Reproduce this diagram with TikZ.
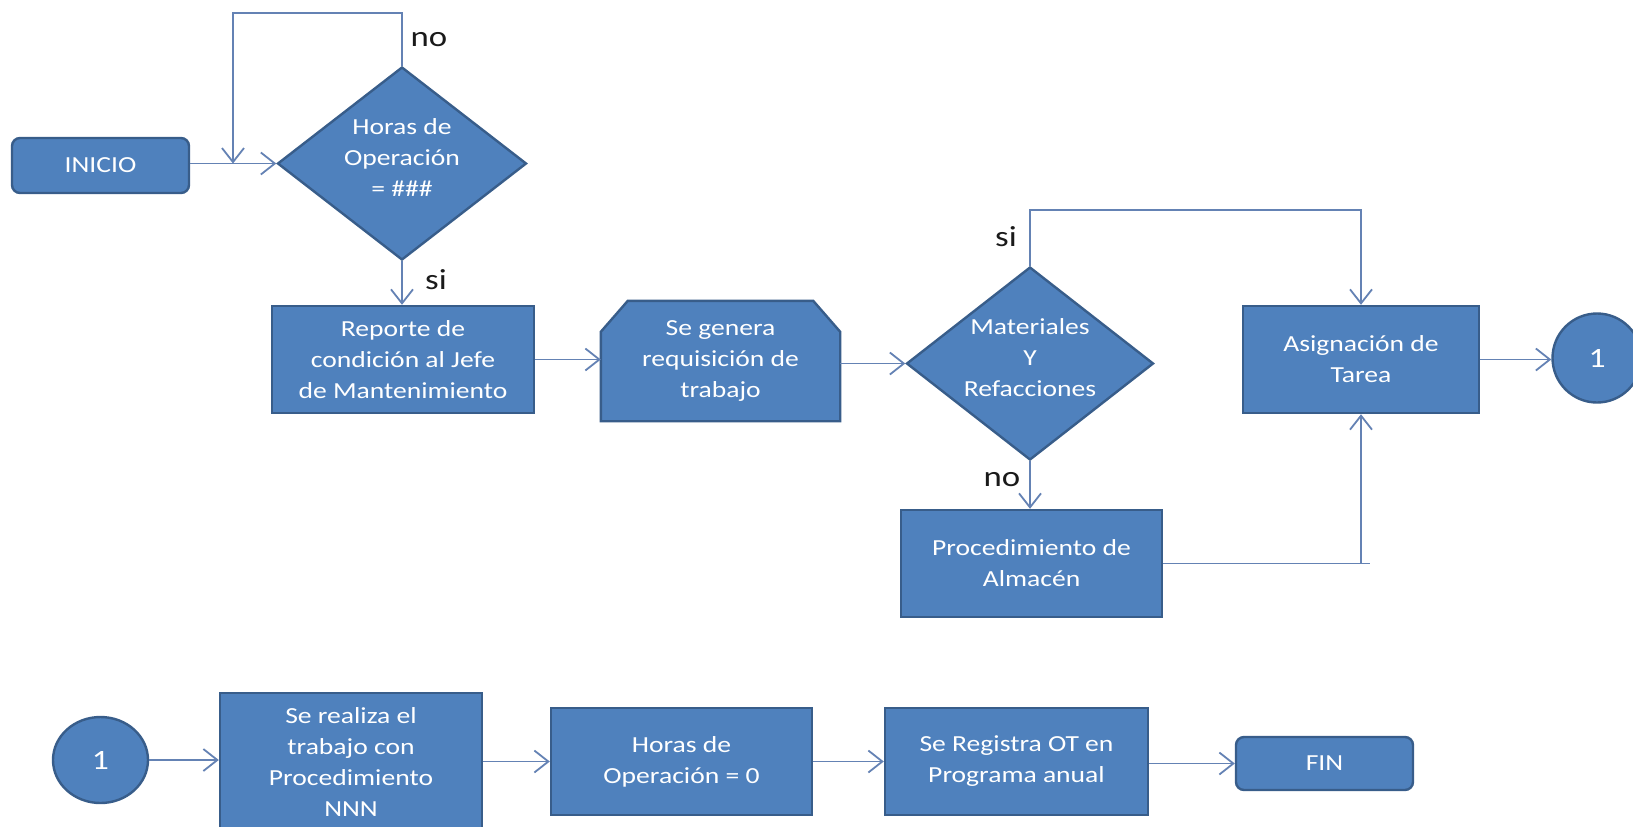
\documentclass[tikz,border=0pt]{standalone}
\usepackage{fontspec}
\setmainfont{Carlito}[FakeStretch=1.2]
\usetikzlibrary{arrows.meta,shapes.geometric,backgrounds}

\definecolor{boxfill}{HTML}{4F81BD}
\definecolor{boxedge}{HTML}{385D8A}
\definecolor{linkcol}{HTML}{6482B4}
\definecolor{labcol}{HTML}{1A1A1A}

\begin{document}
\begin{tikzpicture}[x=0.5pt,y=-0.5pt,
  shapebase/.style={fill=boxfill, draw=boxedge, line width=1.2pt, text=white,
    font=\fontsize{11.5}{15.5}\selectfont, align=center, inner sep=2pt},
  procbox/.style={shapebase, rectangle},
  termbox/.style={shapebase, rectangle, rounded corners=4pt},
  decision/.style={shapebase, diamond, inner sep=-2pt, shape aspect=1.28, text depth=6pt},
  connector/.style={shapebase, ellipse, inner sep=0pt, font=\fontsize{14}{16}\selectfont},
  link/.style={draw=linkcol, line width=0.9pt},
  arr/.style={link, -{Straight Barb[length=7pt,width=11pt]}},
  branch/.style={text=labcol, font=\fontsize{14.5}{17}\selectfont, inner sep=0pt}
]
\begin{scope}[on background layer]
  \fill[white] (0,0) rectangle (1633,826);
\end{scope}
\useasboundingbox (0,0) rectangle (1633,826);
\clip (0,0) rectangle (1633,826);

% first row: start, hour check, report, requisition
\node[termbox, minimum width=88.5pt, minimum height=27.5pt] (ini) at (100.5,165.5) {INICIO};
\node[decision, minimum width=124.5pt, minimum height=96.5pt] (d1) at (402,163.5) {Horas de\\Operación\\= \#\#\#};
\node[procbox, minimum width=131pt, minimum height=53.5pt] (rep) at (403,359.5) {Reporte de\\condición al Jefe\\de Mantenimiento};
\node[shapebase, fill=none, draw=none, minimum width=118.5pt, minimum height=59pt] (req) at (720.5,361) {Se genera\\requisición de\\trabajo};
\begin{scope}[on background layer]
  \filldraw[fill=boxfill, draw=boxedge, line width=1.2pt]
    (req.south west) -- ([yshift=-15.5pt]req.north west) -- ([xshift=13.5pt]req.north west)
    -- ([xshift=-13.5pt]req.north east) -- ([yshift=-15.5pt]req.north east)
    -- (req.south east) -- cycle;
\end{scope}
\node[decision, minimum width=123.5pt, minimum height=96.5pt] (d2) at (1030,363.5) {Materiales\\Y\\Refacciones};
\node[procbox, minimum width=118pt, minimum height=53.5pt] (asig) at (1361,359.5) {Asignación de\\Tarea};
\node[connector, minimum width=44.5pt, minimum height=44.5pt] (c1) at (1597,358) {1};
\node[procbox, minimum width=130.5pt, minimum height=53.5pt] (alm) at (1031.5,563.5) {Procedimiento de\\Almacén};

% second row: execution and closing
\node[connector, minimum width=47.5pt, minimum height=43pt] (c2) at (100.5,760) {1};
\node[procbox, minimum width=131pt, minimum height=69pt] (real) at (351,762) {Se realiza el\\trabajo con\\Procedimiento\\NNN};
\node[procbox, minimum width=130.5pt, minimum height=53.5pt] (h0) at (681.5,761.5) {Horas de\\Operación = 0};
\node[procbox, minimum width=131.5pt, minimum height=53.5pt] (reg) at (1016.5,761.5) {Se Registra OT en\\Programa anual};
\node[termbox, minimum width=88.5pt, minimum height=26.5pt] (fin) at (1324.5,763.5) {FIN};

% connectors of the first row
\draw[arr] (d1.west -| ini.east) -- (d1.west);
\coordinate (loopTL) at (233,13);
\draw[arr] (d1.north) |- (loopTL) -- (loopTL |- d1.west);
\node[branch] (noA) at (429,40) {no};
\draw[arr] (d1.south) -- (d1.south |- rep.north);
\node[branch] (siA) at (436,280) {si};
\draw[arr] (rep.east) -- (rep.east -| req.west);
\draw[arr] (d2.west -| req.east) -- (d2.west);
\coordinate (yTop) at (0,210);
\draw[arr] (d2.north) |- (asig.north |- yTop) -- (asig.north);
\node[branch] (siB) at (1006,237) {si};
\draw[arr] (d2.south) -- (d2.south |- alm.north);
\node[branch] (noB) at (1002,480) {no};
\coordinate (almEnd) at (1370,565);
\draw[link] (alm.east) -- (alm.east -| almEnd);
\draw[arr] (asig.south |- alm.east) -- (asig.south);
\draw[arr] (asig.east) -- (asig.east -| c1.west);

% connectors of the second row
\draw[arr] (c2.east) -- (c2.east -| real.west);
\draw[arr] (real.east |- h0.west) -- (h0.west);
\draw[arr] (h0.east) -- (reg.west);
\draw[arr] (reg.east |- fin.west) -- (fin.west);
\end{tikzpicture}
\end{document}
